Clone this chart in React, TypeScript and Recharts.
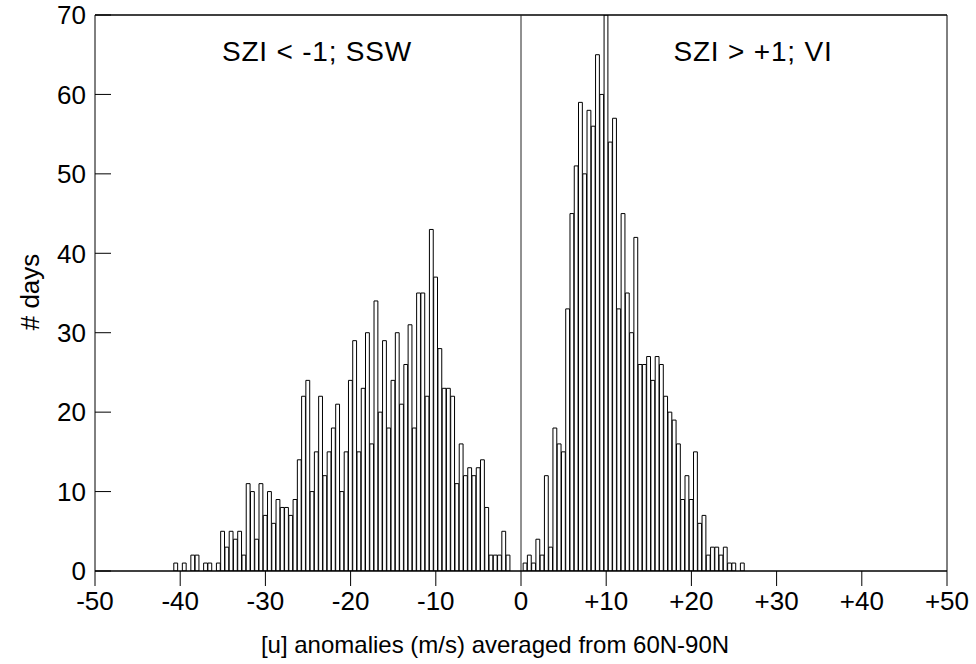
import { BarChart, Bar, XAxis, YAxis, ReferenceLine } from "recharts";

// bin centres (m/s) and day counts, left lobe (SZI < -1)
const sswBins = [
  -40.5, -40, -39.5, -39, -38.5, -38, -37.5, -37, -36.5, -36, -35.5, -35, -34.5, -34, -33.5, -33,
  -32.5, -32, -31.5, -31, -30.5, -30, -29.5, -29, -28.5, -28, -27.5, -27, -26.5, -26, -25.5, -25,
  -24.5, -24, -23.5, -23, -22.5, -22, -21.5, -21, -20.5, -20, -19.5, -19, -18.5, -18, -17.5, -17,
  -16.5, -16, -15.5, -15, -14.5, -14, -13.5, -13, -12.5, -12, -11.5, -11, -10.5, -10, -9.5, -9,
  -8.5, -8, -7.5, -7, -6.5, -6, -5.5, -5, -4.5, -4, -3.5, -3, -2.5, -2, -1.5,
];
const sswDays = [
  1, 0, 1, 0, 2, 2, 0, 1, 1, 0, 1, 5, 3, 5, 4, 5,
  2, 11, 10, 4, 11, 7, 10, 6, 9, 8, 8, 7, 9, 14, 22, 24,
  10, 15, 22, 12, 15, 18, 21, 10, 15, 24, 29, 15, 23, 30, 16, 34,
  20, 29, 18, 24, 30, 21, 26, 31, 18, 35, 35, 22, 43, 37, 28, 23,
  23, 22, 11, 16, 12, 13, 12, 13, 14, 8, 2, 2, 2, 5, 2,
];

// right lobe (SZI > +1)
const viBins = [
  0.5, 1, 1.5, 2, 2.5, 3, 3.5, 4, 4.5, 5, 5.5, 6, 6.5, 7, 7.5, 8,
  8.5, 9, 9.5, 10, 10.5, 11, 11.5, 12, 12.5, 13, 13.5, 14, 14.5, 15, 15.5, 16,
  16.5, 17, 17.5, 18, 18.5, 19, 19.5, 20, 20.5, 21, 21.5, 22, 22.5, 23, 23.5, 24,
  24.5, 25, 25.5, 26,
];
const viDays = [
  1, 2, 1, 4, 2, 12, 3, 18, 16, 15, 33, 45, 51, 59, 50, 58,
  56, 65, 60, 70, 54, 57, 33, 45, 35, 30, 42, 26, 26, 27, 24, 27,
  26, 22, 20, 19, 16, 9, 12, 9, 15, 6, 7, 2, 3, 3, 2, 3,
  1, 1, 0, 1,
];

const xTicks = [-50, -40, -30, -20, -10, 0, 10, 20, 30, 40, 50];
const yTicks = [0, 10, 20, 30, 40, 50, 60, 70];

const rows = [
  ...sswBins.map((x, i) => ({ x, days: sswDays[i] })),
  ...viBins.map((x, i) => ({ x, days: viDays[i] })),
];

const FONT = '"Liberation Sans", Arial, Helvetica, sans-serif';

// y ticks point into the plot, label sits left of the axis
function YTick(props: any) {
  const { x, y, payload } = props;
  const ax = x + 9;
  return (
    <g>
      <line x1={ax} x2={ax + 16} y1={y} y2={y} stroke="#000" strokeWidth={1} />
      <text x={x} y={y} dy="0.355em" textAnchor="end" fontSize={26} fontFamily={FONT} fill="#000">
        {payload.value}
      </text>
    </g>
  );
}

export default function App() {
  return (
    <div style={{ position: "absolute", left: 0, top: 0, width: 976, height: 664, background: "#fff" }}>
      <BarChart
        width={976}
        height={664}
        data={rows}
        margin={{ top: 15, right: 29, bottom: 33, left: 35 }}
        barCategoryGap={0}
        barGap={0}
      >
        <XAxis
          type="number"
          dataKey="x"
          domain={[-50, 50]}
          ticks={xTicks}
          interval={0}
          allowDataOverflow
          height={60}
          tickSize={15}
          tickMargin={6}
          tickFormatter={(v) => (v > 0 ? `+${v}` : `${v}`)}
          axisLine={{ stroke: "#000", strokeWidth: 1.5 }}
          tickLine={{ stroke: "#000" }}
          tick={{ fill: "#000", fontSize: 26, fontFamily: FONT }}
        />
        <YAxis
          type="number"
          domain={[0, 70]}
          ticks={yTicks}
          interval={0}
          allowDataOverflow
          width={60}
          tickSize={0}
          tickMargin={9}
          tickLine={false}
          axisLine={{ stroke: "#000" }}
          tick={(p: any) => <YTick {...p} />}
        />
        <ReferenceLine y={70} stroke="#000" strokeWidth={1.5} />
        <ReferenceLine x={50} stroke="#000" strokeWidth={1} />
        <ReferenceLine x={0} stroke="#222" strokeWidth={1} />
        <Bar
          dataKey="days"
          fill="#fff"
          stroke="#000"
          strokeWidth={1}
          barSize={4.26}
          isAnimationActive={false}
        />
      </BarChart>
      <svg
        width={976}
        height={664}
        style={{ position: "absolute", left: 0, top: 0, pointerEvents: "none" }}
        fontFamily={FONT}
        fill="#000"
      >
        <text x={317} y={61} textAnchor="middle" fontSize={28} letterSpacing={0.8}>SZI &lt; -1; SSW</text>
        <text x={753} y={61} textAnchor="middle" fontSize={28} letterSpacing={0.8}>SZI &gt; +1; VI</text>
        <text x={495} y={653} textAnchor="middle" fontSize={24}>
          [u] anomalies (m/s) averaged from 60N-90N
        </text>
        <text transform="translate(39,292) rotate(-90)" textAnchor="middle" fontSize={26}>
          # days
        </text>
      </svg>
    </div>
  );
}
